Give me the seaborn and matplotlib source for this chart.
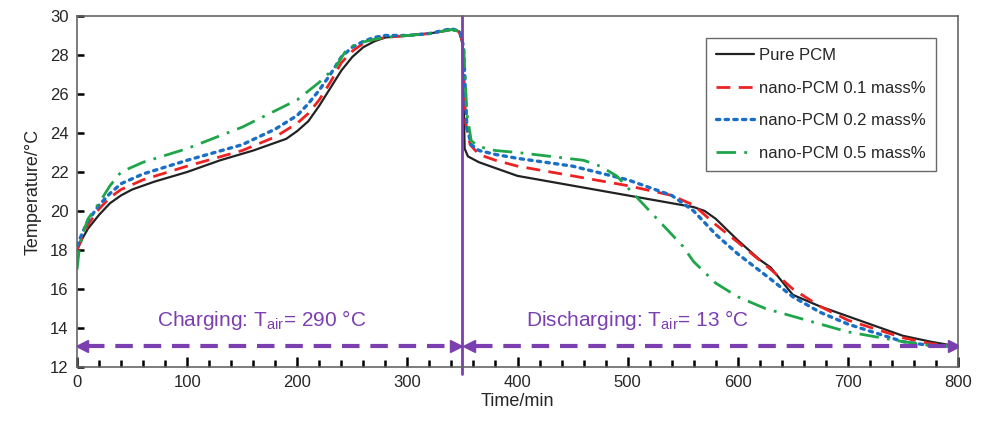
import numpy as np
import pandas as pd
import matplotlib
matplotlib.use('Agg')
import matplotlib.pyplot as plt
import seaborn as sns

# Data
time_pure = [0, 5, 10, 20, 30, 40, 50, 70, 100, 130, 160, 190, 200, 210, 220, 230, 240, 250, 260, 270, 280, 300, 320, 340, 347, 350, 352, 355, 365, 380, 400, 450, 500, 540, 560, 570, 580, 600, 620, 630, 640, 650, 675, 700, 725, 750, 775, 790, 800]
temp_pure = [18.0, 18.6, 19.1, 19.8, 20.4, 20.8, 21.1, 21.5, 22.0, 22.6, 23.1, 23.7, 24.1, 24.6, 25.4, 26.3, 27.2, 27.9, 28.4, 28.7, 28.9, 29.0, 29.1, 29.3, 29.2, 28.6, 23.2, 22.8, 22.5, 22.2, 21.8, 21.3, 20.8, 20.4, 20.2, 20.0, 19.6, 18.5, 17.5, 17.1, 16.4, 15.7, 15.1, 14.6, 14.1, 13.6, 13.3, 13.15, 13.1]

time_01 = [0, 5, 10, 20, 30, 40, 60, 100, 150, 180, 200, 210, 220, 230, 240, 250, 260, 270, 280, 300, 320, 340, 347, 350, 353, 357, 365, 380, 400, 450, 500, 540, 560, 580, 600, 630, 650, 675, 700, 750, 775, 800]
temp_01 = [18.0, 18.7, 19.3, 20.1, 20.7, 21.1, 21.6, 22.3, 23.1, 23.8, 24.5, 25.0, 25.7, 26.6, 27.6, 28.2, 28.6, 28.8, 28.9, 29.0, 29.1, 29.3, 29.2, 28.7, 24.5, 23.4, 22.9, 22.6, 22.3, 21.8, 21.3, 20.8, 20.3, 19.3, 18.4, 17.0, 16.0, 15.1, 14.4, 13.5, 13.2, 13.05]

time_02 = [0, 5, 10, 20, 30, 40, 60, 100, 150, 180, 200, 210, 220, 230, 240, 250, 260, 270, 280, 300, 320, 340, 348, 351, 354, 358, 365, 380, 400, 450, 500, 540, 560, 580, 600, 630, 650, 675, 700, 750, 775, 800]
temp_02 = [18.2, 18.9, 19.5, 20.3, 20.9, 21.4, 21.9, 22.6, 23.4, 24.2, 24.9, 25.5, 26.2, 27.0, 27.9, 28.4, 28.7, 28.9, 29.0, 29.0, 29.1, 29.35, 29.2, 28.4, 24.3, 23.4, 23.1, 22.9, 22.7, 22.3, 21.6, 20.8, 20.0, 18.8, 17.8, 16.5, 15.6, 14.8, 14.2, 13.3, 13.1, 13.05]

time_05 = [0, 2, 5, 10, 20, 30, 40, 60, 100, 150, 200, 220, 235, 245, 255, 270, 280, 300, 320, 340, 348, 351, 354, 358, 365, 380, 400, 430, 460, 475, 490, 510, 530, 550, 560, 580, 600, 625, 650, 675, 700, 750, 775, 800]
temp_05 = [17.0, 18.0, 18.8, 19.6, 20.4, 21.3, 22.0, 22.5, 23.2, 24.3, 25.7, 26.6, 27.4, 28.3, 28.6, 28.8, 28.9, 29.0, 29.1, 29.3, 29.2, 28.6, 25.0, 23.6, 23.3, 23.1, 23.0, 22.8, 22.6, 22.3, 21.8, 20.6, 19.4, 18.2, 17.4, 16.3, 15.6, 15.0, 14.6, 14.2, 13.8, 13.3, 13.1, 13.05]

labels = ['Pure PCM', 'nano-PCM 0.1 mass%', 'nano-PCM 0.2 mass%', 'nano-PCM 0.5 mass%']
times = [time_pure, time_01, time_02, time_05]
temps = [temp_pure, temp_01, temp_02, temp_05]
colors = ['#222222', '#ee2222', '#1a6fc4', '#1fa54a']
dash_styles = ['', (5, 3), (1, 1.6), (7, 3, 1, 3)]
widths = [1.6, 2.0, 2.4, 2.0]

switch_time = 350
arrow_y = 13.1
phase_labels = ['Charging: T$_{\\mathregular{air}}$= 290 °C', 'Discharging: T$_{\\mathregular{air}}$= 13 °C']
phase_text_x = [168, 509]
purple = '#7b3fb0'

sns.set_style('white', {'xtick.bottom': True, 'ytick.left': True,
                        'xtick.direction': 'in', 'ytick.direction': 'in'})
plt.rcParams['font.family'] = ['Liberation Sans', 'DejaVu Sans']
plt.rcParams['mathtext.fontset'] = 'custom'
plt.rcParams['mathtext.rm'] = 'Liberation Sans'

fig = plt.figure(figsize=(9.86, 4.23), dpi=100)
ax = fig.add_axes([0.0781, 0.1324, 0.8935, 0.8298])

frames = []
for lab, t, y in zip(labels, times, temps):
    frames.append(pd.DataFrame({'Time': t, 'Temp': y, 'Series': lab}))
df = pd.concat(frames, ignore_index=True)

for lab, col, lw in zip(labels, colors, widths):
    sub = df[df['Series'] == lab]
    sns.lineplot(data=sub, x='Time', y='Temp', ax=ax, color=col, lw=lw,
                 label=lab, sort=False, estimator=None)
for ln, ds in zip(ax.get_lines(), dash_styles):
    if ds:
        ln.set_dashes(ds)
    if ds == (1, 1.6):
        ln.set_dash_capstyle('round')

# switch line
ax.axvline(switch_time, ymin=-0.02, ymax=1, color=purple, lw=2, clip_on=False)

# phase arrows
segments = [(1.5, switch_time - 3), (switch_time + 3, 799)]
for (a, b), txt, tx in zip(segments, phase_labels, phase_text_x):
    ax.plot([a + 8, b - 8], [arrow_y, arrow_y], color=purple, lw=3, dashes=(4.2, 2.6))
    ax.plot([a + 3], [arrow_y], marker='<', color=purple, ms=9, ls='none')
    ax.plot([b - 3], [arrow_y], marker='>', color=purple, ms=9, ls='none')
    ax.text(tx, 14.4, txt, color=purple, fontsize=15, ha='center', va='center')

ax.set_xlim(0, 800)
ax.set_ylim(12, 30)
ax.set_xticks(range(0, 801, 100))
ax.set_xticks(range(0, 801, 20), minor=True)
ax.set_yticks(range(12, 31, 2))
ax.tick_params(axis='x', which='both', direction='in', length=5, width=1.8,
               color='black', bottom=True)
ax.tick_params(axis='x', which='major', length=7, labelsize=12, pad=6)
ax.tick_params(axis='y', which='major', direction='in', length=5, width=1.8,
               color='black', left=True, labelsize=12, pad=6)
ax.set_xlabel('Time/min', fontsize=13, labelpad=2)
ax.set_ylabel('Temperature/°C', fontsize=13, labelpad=6)
for sp in ax.spines.values():
    sp.set_color('#666666')
    sp.set_linewidth(1.2)

leg = ax.legend(loc='upper right', bbox_to_anchor=(0.975, 0.937), borderaxespad=0,
                fontsize=12, frameon=True, fancybox=False, edgecolor='#444444',
                labelspacing=1.05, handlelength=2.3, handletextpad=0.3,
                borderpad=0.6)
leg.get_frame().set_linewidth(1.0)

fig.savefig('out.png', dpi=100)
